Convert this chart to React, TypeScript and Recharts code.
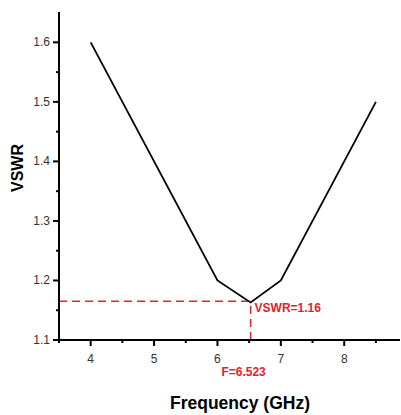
import React from 'react';
import { LineChart, Line, XAxis, YAxis, ReferenceLine, ReferenceDot } from 'recharts';

const freq = [4, 6, 6.523, 7, 8.5];
const vswr = [1.6, 1.2, 1.163, 1.2, 1.5];
const xTicks = [3.5, 4, 4.5, 5, 5.5, 6, 6.5, 7, 7.5, 8, 8.5];
const yTicks = [1.1, 1.15, 1.2, 1.25, 1.3, 1.35, 1.4, 1.45, 1.5, 1.55, 1.6];
const minF = 6.523;
const minVswr = 1.165;

const data = freq.map((f, i) => ({ f, v: vswr[i] }));
const red = '#e0242c';
const font = 'Liberation Sans, Arial, sans-serif';

const isMajor = (v: number) => Math.abs(v * 10 - Math.round(v * 10)) < 1e-6;
const isMajorX = (v: number) => Math.abs(v - Math.round(v)) < 1e-6;

const renderYTick = (props: any) => {
    const { x, y, payload } = props;
    const major = isMajor(payload.value);
    return (
        <g key={`y-${payload.value}`}>
            <path d={`M${x},${y}H${x - (major ? 6 : 3)}`} stroke="#000" strokeWidth={2} fill="none" />
            {major && (
                <text x={x - 9} y={y + 4} textAnchor="end" fontSize={12} fill="#333" fontFamily={font}>
                    {payload.value.toFixed(1)}
                </text>
            )}
        </g>
    );
};

const renderXTick = (props: any) => {
    const { x, y, payload } = props;
    const major = isMajorX(payload.value);
    return (
        <g key={`x-${payload.value}`}>
            <path d={`M${x},${y}V${y + (major ? 6 : 3)}`} stroke="#000" strokeWidth={2} fill="none" />
            {major && (
                <text x={x} y={y + 23} textAnchor="middle" fontSize={12} fill="#333" fontFamily={font}>
                    {payload.value}
                </text>
            )}
        </g>
    );
};

export default function App() {
    return (
        <div style={{ position: 'absolute', left: 0, top: 0, width: 401, height: 415, background: '#fff' }}>
            <LineChart width={401} height={415} data={data} margin={{ top: 12, right: 1, bottom: 0, left: 0 }}>
                <XAxis
                    dataKey="f"
                    type="number"
                    domain={[3.5, 8.88]}
                    ticks={xTicks}
                    interval={0}
                    height={75}
                    tickSize={0}
                    tickMargin={0}
                    tickLine={false}
                    axisLine={{ stroke: '#000', strokeWidth: 2 }}
                    tick={renderXTick}
                />
                <YAxis
                    type="number"
                    domain={[1.1, 1.651]}
                    ticks={yTicks}
                    interval={0}
                    width={59}
                    tickSize={0}
                    tickMargin={0}
                    tickLine={false}
                    axisLine={{ stroke: '#000', strokeWidth: 2 }}
                    tick={renderYTick}
                />
                <ReferenceLine
                    segment={[{ x: 3.5, y: minVswr }, { x: minF, y: minVswr }]}
                    stroke={red}
                    strokeWidth={1.5}
                    strokeDasharray="8 5"
                />
                <ReferenceLine
                    segment={[{ x: minF, y: 1.1 }, { x: minF, y: minVswr }]}
                    stroke={red}
                    strokeWidth={1.5}
                    strokeDasharray="8 5"
                />
                <Line
                    type="linear"
                    dataKey="v"
                    stroke="#000"
                    strokeWidth={1.8}
                    dot={false}
                    activeDot={false}
                    isAnimationActive={false}
                />
                <ReferenceDot
                    x={minF}
                    y={minVswr}
                    r={0}
                    fill="none"
                    stroke="none"
                    label={(p: any) => (
                        <g>
                            <text x={p.viewBox.x + 4} y={p.viewBox.y + 11} fontSize={12} fontWeight="bold" fill={red} fontFamily={font}>
                                VSWR=1.16
                            </text>
                            <text x={p.viewBox.x - 7} y={p.viewBox.y + 75} textAnchor="middle" fontSize={12} fontWeight="bold" fill={red} fontFamily={font}>
                                F=6.523
                            </text>
                        </g>
                    )}
                />
                <text x={17} y={168} transform="rotate(-90 17 168)" textAnchor="middle" dominantBaseline="central" fontSize={16} fontWeight="bold" fontFamily={font} fill="#000">
                    VSWR
                </text>
                <text x={240} y={409} textAnchor="middle" fontSize={17.5} fontWeight="bold" fontFamily={font} fill="#000">
                    Frequency (GHz)
                </text>
            </LineChart>
        </div>
    );
}
